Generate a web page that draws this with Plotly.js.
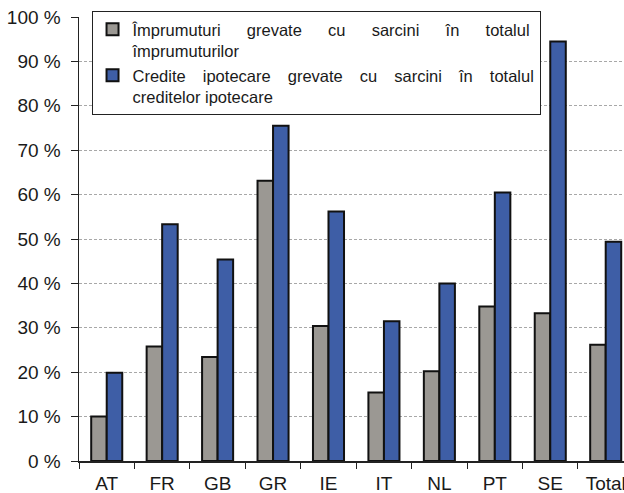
<!DOCTYPE html>
<html><head><meta charset="utf-8">
<script src="https://cdn.plot.ly/plotly-3.0.1.min.js"></script>
<style>html,body{margin:0;padding:0;overflow:hidden;background:#fff}</style>
</head><body><div id="chart"></div>
<script>
const categories = ["AT","FR","GB","GR","IE","IT","NL","PT","SE","Total"];
const encumberedLoans = [10.0, 25.8, 23.4, 63.1, 30.4, 15.4, 20.2, 34.8, 33.3, 26.2];
const encumberedMortgages = [19.9, 53.3, 45.4, 75.5, 56.2, 31.5, 40.0, 60.5, 94.5, 49.4];
const seriesNames = [
  "Împrumuturi&nbsp;&nbsp;&nbsp;&nbsp;&#8201; grevate&nbsp;&nbsp;&nbsp;&nbsp;&#8201; cu&nbsp;&nbsp;&nbsp;&nbsp;&#8201; sarcini&nbsp;&nbsp;&nbsp;&nbsp;&#8201; în&nbsp;&nbsp;&nbsp;&nbsp;&#8201; totalul<br>împrumuturilor",
  "Credite&nbsp;&nbsp;&#8201; ipotecare&nbsp;&nbsp;&#8201; grevate&nbsp;&nbsp;&#8201; cu&nbsp;&nbsp;&#8201; sarcini&nbsp;&nbsp;&#8201; în&nbsp;&nbsp;&#8201; totalul<br>creditelor ipotecare"
];
const yTickVals = [0,10,20,30,40,50,60,70,80,90,100];
const yTickLabels = ["0 %","10 %","20 %","30 %","40 %","50 %","60 %","70 %","80 %","90 %","100 %"];

const traces = [
  {type:"bar", x:categories, y:encumberedLoans, name:seriesNames[0],
   marker:{color:"#9b9893", line:{color:"#111", width:2}}},
  {type:"bar", x:categories, y:encumberedMortgages, name:seriesNames[1],
   marker:{color:"#3e5ea6", line:{color:"#111", width:2}}}
];
const layout = {
  width:624, height:493,
  margin:{l:79, r:0, t:17, b:32},
  paper_bgcolor:"#fff", plot_bgcolor:"#fff",
  font:{family:"Liberation Sans", size:19, color:"#1a1a1a"},
  barmode:"group", bargap:0.44, bargroupgap:0,
  showlegend:true,
  legend:{x:0.023, y:1.0135, xanchor:"left", yanchor:"top",
    bgcolor:"#fff", bordercolor:"#222", borderwidth:1,
    font:{family:"Liberation Sans", size:16.5}, valign:"top", tracegroupgap:0, itemwidth:30},
  xaxis:{type:"category", range:[-0.5, 9.33], showline:true, linecolor:"#222", linewidth:1.5,
    ticks:"outside", tickson:"boundaries", ticklen:6, tickcolor:"#222", ticklabelstandoff:5,
    showgrid:false, zeroline:false, fixedrange:true},
  yaxis:{range:[0,100], tickmode:"array", tickvals:yTickVals, ticktext:yTickLabels,
    showline:true, linecolor:"#222", linewidth:1.5,
    ticks:"outside", ticklen:7, tickcolor:"#222", ticklabelstandoff:6,
    showgrid:true, gridcolor:"#a8a8a8", gridwidth:1, griddash:"3px,2px", zeroline:false}
};
Plotly.newPlot("chart", traces, layout, {displayModeBar:false, staticPlot:true});
</script></body></html>
